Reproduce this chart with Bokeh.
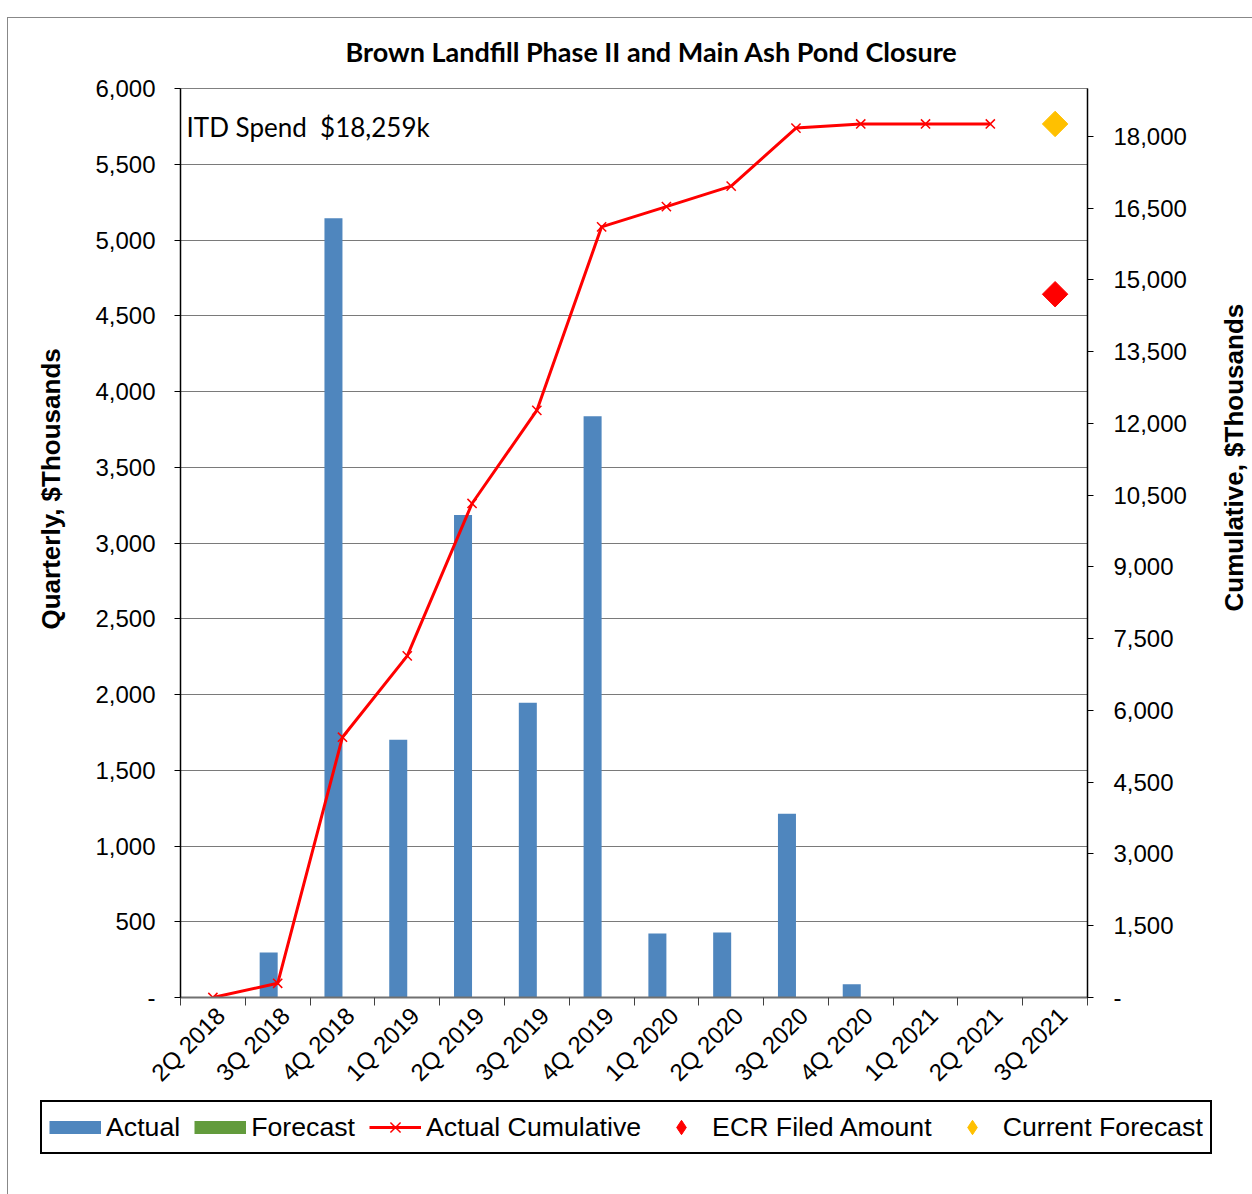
from math import pi, nan
from bokeh.plotting import figure
from bokeh.layouts import column, row
from bokeh.models import (Range1d, LinearAxis, FixedTicker, CustomJSTickFormatter,
                          Legend, LegendItem, Label, Title, InlineStyleSheet)
from bokeh.embed import file_html
from bokeh.resources import INLINE

# ---------------- data ----------------
quarters = ["2Q 2018", "3Q 2018", "4Q 2018", "1Q 2019", "2Q 2019", "3Q 2019", "4Q 2019",
            "1Q 2020", "2Q 2020", "3Q 2020", "4Q 2020", "1Q 2021", "2Q 2021", "3Q 2021"]
actual = [0, 297, 5143, 1701, 3185, 1945, 3837, 422, 429, 1213, 87, 0, 0]
forecast = [0, 0, 0, 0, 0, 0, 0, 0, 0, 0, 0, 0, 0, 0]
actual_cumulative = [0, 297, 5440, 7141, 10326, 12271, 16108, 16530, 16959, 18172, 18259, 18259, 18259]
ecr_filed_quarter = "3Q 2021"
ecr_filed_amount = 14700
current_forecast_quarter = "3Q 2021"
current_forecast_amount = 18259
itd_text = "ITD Spend \u00a0$18,259k"
title_text = "Brown Landfill Phase II and Main Ash Pond Closure"
left_title = "Quarterly, $Thousands"
right_title = "Cumulative, $Thousands"
left_ticks = list(range(0, 6001, 500))
right_ticks = list(range(0, 19001, 1500))

BLUE = "#4F86BE"
GREEN = "#629B3C"
RED = "#FF0000"
GOLD = "#FFC000"
FONT = "Liberation Sans"

n = len(quarters)
centers = [i + 0.5 for i in range(n)]
bar_w = 0.278
label_shift = 0.12  # rotated category labels sit slightly right of the category centre

MAIN_H = 1098
BOTTOM = 100

# ---------------- main chart ----------------
p = figure(width=1202, height=MAIN_H, x_range=Range1d(0, n), y_range=Range1d(0, 6000),
           output_backend="svg", toolbar_location=None,
           min_border_left=180, min_border_right=115, min_border_top=88, min_border_bottom=BOTTOM)
p.extra_y_ranges = {"cum": Range1d(0, 19000)}
p.background_fill_color = "white"
p.border_fill_color = "white"
p.outline_line_color = "#808080"
p.outline_line_width = 1

# title
p.title.text = title_text
p.title.align = "left"
p.title.text_font = "Lato"
p.title.text_font_style = "bold"
p.title.text_font_size = "27px"
p.title.text_color = "black"
p.title.offset = 165
p.title.standoff = 42

# grid
p.xgrid.visible = False
p.ygrid.grid_line_color = "#7A7A7A"
p.ygrid.grid_line_width = 1

fmt_code = "return tick == 0 ? '-' : tick.toLocaleString('en-US');"

# left axis
p.yaxis.ticker = FixedTicker(ticks=left_ticks)
p.yaxis.formatter = CustomJSTickFormatter(code=fmt_code)
p.yaxis.major_label_text_font = FONT
p.yaxis.major_label_text_font_size = "24px"
p.yaxis.major_label_text_color = "black"
p.yaxis.major_label_standoff = 19
p.yaxis.major_tick_out = 6
p.yaxis.major_tick_in = 0
p.yaxis.minor_tick_line_color = None
p.yaxis.axis_line_color = "black"
p.yaxis.axis_line_width = 1.5
p.yaxis.major_tick_line_color = "black"

# left axis title (as a side title so it can sit where the reference has it)
ltitle = Title(text=left_title, align="left", offset=368, standoff=54,
               text_font=FONT, text_font_style="bold", text_font_size="26px", text_color="black")
p.add_layout(ltitle, "left")

# right axis
raxis = LinearAxis(y_range_name="cum", ticker=FixedTicker(ticks=right_ticks),
                   formatter=CustomJSTickFormatter(code=fmt_code))
raxis.major_label_text_font = FONT
raxis.major_label_text_font_size = "24px"
raxis.major_label_text_color = "black"
raxis.major_label_standoff = 20
raxis.major_tick_out = 6
raxis.major_tick_in = 0
raxis.minor_tick_line_color = None
raxis.axis_line_color = "black"
raxis.axis_line_width = 1.5
p.add_layout(raxis, "right")

# x axis
p.xaxis.ticker = FixedTicker(ticks=[c + label_shift for c in centers], minor_ticks=list(range(n + 1)))
p.xaxis.formatter = CustomJSTickFormatter(args=dict(labels=quarters),
                                          code="return labels[Math.floor(tick)];")
p.xaxis.major_label_orientation = pi / 4
p.xaxis.major_label_text_font = FONT
p.xaxis.major_label_text_font_size = "24px"
p.xaxis.major_label_text_color = "black"
p.xaxis.major_label_standoff = 6
p.xaxis.major_tick_line_color = None
p.xaxis.minor_tick_out = 8
p.xaxis.minor_tick_in = 0
p.xaxis.minor_tick_line_color = "#404040"
p.xaxis.axis_line_color = "#707070"
p.xaxis.axis_line_width = 2

# bars
xa = [c - bar_w / 2 for c in centers[:len(actual)]]
xf = [c + bar_w / 2 for c in centers[:len(forecast)]]
p.vbar(x=xa, top=actual, width=bar_w, fill_color=BLUE, line_color=None)
p.vbar(x=xf, top=forecast, width=bar_w, fill_color=GREEN, line_color=None)

# cumulative line
xc = centers[:len(actual_cumulative)]
p.line(x=xc, y=actual_cumulative, y_range_name="cum", line_color=RED, line_width=3)
p.scatter(x=xc, y=actual_cumulative, y_range_name="cum", marker="x", size=13,
          line_color=RED, line_width=1.5)

# diamonds
ecr_x = centers[quarters.index(ecr_filed_quarter)]
cf_x = centers[quarters.index(current_forecast_quarter)]
p.scatter(x=[ecr_x], y=[ecr_filed_amount], y_range_name="cum", marker="square", angle=pi / 4,
          size=18, fill_color=RED, line_color=RED)
p.scatter(x=[cf_x], y=[current_forecast_amount], y_range_name="cum", marker="square", angle=pi / 4,
          size=18, fill_color=GOLD, line_color=GOLD)

# ITD label
p.add_layout(Label(x=0.093, y=5749, text=itd_text, text_font="Lato", text_font_size="26px",
                   text_color="black", text_baseline="middle", text_align="left"))

# ---------------- right axis title strip ----------------
strip = figure(width=48, height=MAIN_H, x_range=Range1d(0, 1), y_range=Range1d(0, 1),
               output_backend="svg", toolbar_location=None, x_axis_type=None, y_axis_type=None,
               min_border_left=46, min_border_right=0, min_border_top=88, min_border_bottom=BOTTOM,
               title=None)
strip.outline_line_color = None
strip.grid.visible = False
strip.background_fill_color = "white"
strip.border_fill_color = "white"
rtitle = Title(text=right_title, align="left", offset=386, standoff=0,
               text_font=FONT, text_font_style="bold", text_font_size="26px", text_color="black")
strip.add_layout(rtitle, "left")

# ---------------- legend strip ----------------
LEG_H = 1186 - MAIN_H
lf = figure(width=1250, height=LEG_H, x_range=Range1d(0, 1), y_range=Range1d(0, 1),
            output_backend="svg", toolbar_location=None, x_axis_type=None, y_axis_type=None,
            min_border=0, title=None)
lf.outline_line_color = None
lf.grid.visible = False
lf.background_fill_color = "white"
lf.border_fill_color = "white"
lg_actual = lf.line(x=[nan], y=[nan], line_color=BLUE, line_width=13)
lg_fore = lf.line(x=[nan], y=[nan], line_color=GREEN, line_width=13)
lg_cum_l = lf.line(x=[nan], y=[nan], line_color=RED, line_width=3)
lg_cum_p = lf.scatter(x=[nan], y=[nan], marker="x", size=13, line_color=RED, line_width=1.5)
lg_ecr = lf.scatter(x=[nan], y=[nan], marker="diamond", fill_color=RED, line_color=RED)
lg_cf = lf.scatter(x=[nan], y=[nan], marker="diamond", fill_color=GOLD, line_color=GOLD)

legend = Legend(items=[
    LegendItem(label="Actual", renderers=[lg_actual]),
    LegendItem(label="Forecast", renderers=[lg_fore]),
    LegendItem(label="Actual Cumulative", renderers=[lg_cum_l, lg_cum_p]),
    LegendItem(label="ECR Filed Amount", renderers=[lg_ecr]),
    LegendItem(label="Current Forecast", renderers=[lg_cf]),
], orientation="horizontal", location=(40, 32))
legend.border_line_color = "black"
legend.border_line_alpha = 1
legend.border_line_width = 2
legend.background_fill_color = "white"
legend.background_fill_alpha = 1
legend.padding = 7
legend.spacing = 14
legend.margin = 0
legend.label_standoff = 5
legend.glyph_width = 52
legend.glyph_height = 36
legend.label_text_font = FONT
legend.label_text_font_size = "26.7px"
legend.label_text_color = "black"
legend.label_height = 36
lf.add_layout(legend, "center")

layout = column(row(p, strip), lf)
layout.stylesheets = [InlineStyleSheet(css="""
:host { position: relative; }
:host::after { content: ''; position: absolute; left: 7px; top: 17px; width: 1245px; height: 1177px;
  border-left: 1.5px solid #888888; border-top: 1.5px solid #888888; pointer-events: none; z-index: 5; }
""")]

open("out.html", "w").write(file_html(layout, INLINE))
